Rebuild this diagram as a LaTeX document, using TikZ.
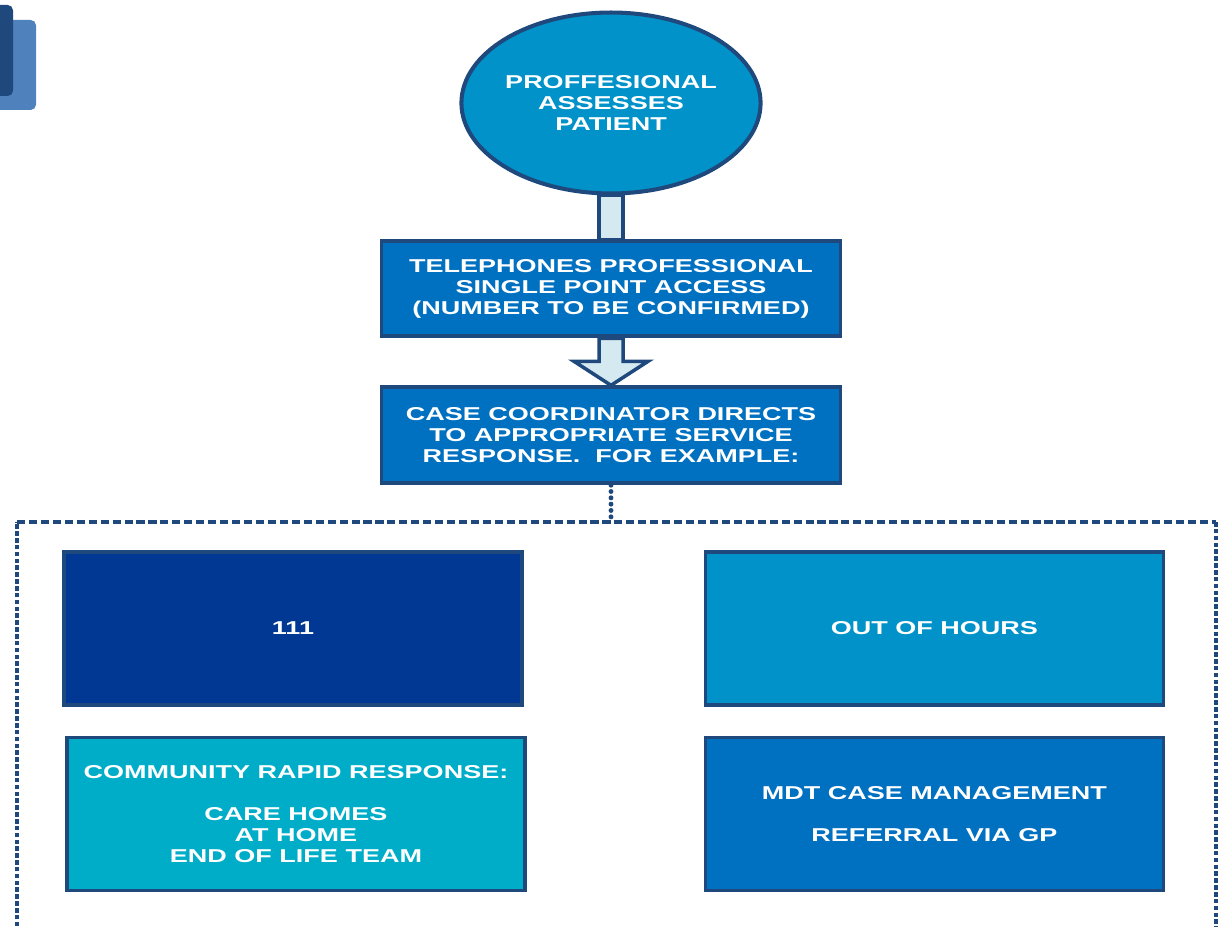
\documentclass[tikz,border=0pt]{standalone}
\usepackage{fontspec}
\newfontfamily\boxfont[FakeStretch=1.45]{Liberation Sans}
\usetikzlibrary{positioning,shapes.geometric,calc,backgrounds}

\definecolor{navyline}{RGB}{31,73,125}
\definecolor{skyfill}{RGB}{0,146,200}
\definecolor{midblue}{RGB}{0,112,192}
\definecolor{deepblue}{RGB}{0,56,147}
\definecolor{tealfill}{RGB}{0,173,200}
\definecolor{palefill}{RGB}{213,234,240}
\definecolor{accentblue}{RGB}{79,129,189}

\begin{document}
\begin{tikzpicture}[
    x=0.02cm, y=-0.02cm,
    txt/.style={font=\boxfont\bfseries\fontsize{10.6}{12}\selectfont, text=white, align=center},
    box/.style={txt, draw=navyline, line width=2.2pt, inner sep=0pt, minimum width=9.18cm, minimum height=1.9cm},
    bigbox/.style={box, minimum width=9.16cm, minimum height=3.06cm, line width=2pt},
    flowpart/.style={draw=navyline, fill=palefill, line width=2pt, line join=miter},
    framedash/.style={draw=navyline, line width=2.3pt, dash pattern=on 4.6pt off 2.2pt},
    framedot/.style={draw=navyline, line width=2.8pt, dash pattern=on 2.6pt off 1.3pt},
    stub/.style={draw=navyline, line width=2.8pt, line cap=round, dash pattern=on 0pt off 3.6pt}
]
\useasboundingbox (0,0) rectangle (1220,926);

% Corner tabs
\fill[accentblue, rounded corners=3pt] (-10,20) rectangle (36,110);
\fill[navyline, rounded corners=3pt] (-10,5) rectangle (13,96);

% Assessment and referral
\node[ellipse, txt, draw=navyline, fill=skyfill, line width=2.3pt, inner sep=0pt,
      minimum width=5.76cm, minimum height=3.62cm] (assess) at (611,103) {PROFFESIONAL\\ASSESSES\\PATIENT};
\node[box, fill=midblue, below=0.88cm of assess] (phone) {TELEPHONES PROFESSIONAL\\SINGLE POINT ACCESS\\(NUMBER TO BE CONFIRMED)};
\node[box, fill=midblue, minimum height=1.92cm, below=0.94cm of phone] (coord) {CASE COORDINATOR DIRECTS\\TO APPROPRIATE SERVICE\\RESPONSE.\ \ FOR EXAMPLE:};

% Service responses
\node[bigbox, fill=deepblue] (nhs111) at (293,628.5) {111};
\node[bigbox, fill=skyfill, right=3.6cm of nhs111] (ooh) {OUT OF HOURS};
\node[bigbox, fill=tealfill, below=0.58cm of nhs111, xshift=0.06cm] (crr) {COMMUNITY RAPID RESPONSE:\\[12pt]CARE HOMES\\AT HOME\\END OF LIFE TEAM};
\node[bigbox, fill=midblue, below=0.58cm of ooh] (mdt) {MDT CASE MANAGEMENT\\[12pt]REFERRAL VIA GP};

% Connectors
\begin{scope}[on background layer]
\draw[flowpart] ($(assess.south)+(-12,0)$) rectangle ($(phone.north)+(12,0)$);
\draw[flowpart] ($(phone.south)+(-12,0)$) -- ++(0,23) -- ++(-25,0) -- (coord.north)
    -- ($(phone.south)+(37,23)$) -- ($(phone.south)+(12,23)$) -- ($(phone.south)+(12,0)$) -- cycle;
\end{scope}

% Options frame
\coordinate (framenw) at (17,522);
\coordinate (framene) at (1216,522);
\draw[stub] (coord.south) -- (coord.south |- framenw);
\draw[framedot] (17,940) -- (framenw);
\draw[framedash] (framenw) -- (framene);
\draw[framedot] (framene) -- (1216,940);
\end{tikzpicture}
\end{document}
